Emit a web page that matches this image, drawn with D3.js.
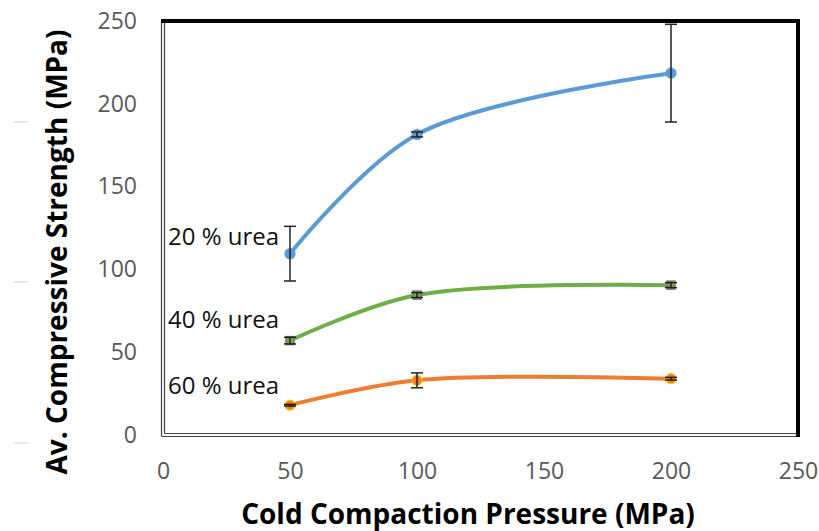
<!DOCTYPE html>
<html><head><meta charset="utf-8">
<script src="https://cdn.jsdelivr.net/npm/d3@7"></script>
<style>body{margin:0;background:#fff;} svg{display:block;}</style>
</head><body>
<svg id="c" width="819" height="531"></svg>
<script>
const pressures = [50, 100, 200];
const seriesNames = ["20 % urea", "40 % urea", "60 % urea"];
const urea20 = [109.5, 181.5, 218.5];
const urea20Err = [16.5, 1.5, 29.5];
const urea40 = [57, 84.5, 90.5];
const urea40Err = [2, 1.5, 1.5];
const urea60 = [18, 33, 34];
const urea60Err = [0.5, 4.5, 0.8];
const xTicks = [0, 50, 100, 150, 200, 250];
const yTicks = [0, 50, 100, 150, 200, 250];

const svg = d3.select("#c");
const x = d3.scaleLinear().domain([0, 250]).range([163, 798]);
const y = d3.scaleLinear().domain([0, 250]).range([435, 21]);
const font = "'Open Sans', 'Liberation Sans', sans-serif";

// stray ticks at far left
[122, 282, 443].forEach(v => svg.append("line").attr("x1", 14).attr("x2", 28).attr("y1", v).attr("y2", v).attr("stroke", "#d0d0d0").attr("stroke-width", 1));

// tick labels
const xAxis = d3.axisBottom(x).tickValues(xTicks).tickSize(0).tickPadding(0);
const gx = svg.append("g").attr("transform", "translate(0,479)").call(xAxis);
gx.select(".domain").remove();
gx.selectAll("text").attr("font-family", font).attr("font-size", 23).attr("fill", "#595959").attr("dy", "0");
const yAxis = d3.axisLeft(y).tickValues(yTicks).tickSize(0).tickPadding(0);
const gy = svg.append("g").attr("transform", "translate(137,0)").call(yAxis);
gy.select(".domain").remove();
gy.selectAll("text").attr("font-family", font).attr("font-size", 23).attr("fill", "#595959");

// frame
const fx0 = x(0), fx1 = x(250), fy0 = y(0), fy1 = y(250);
svg.append("line").attr("x1", fx0 - 1.5).attr("x2", fx0 - 1.5).attr("y1", fy1).attr("y2", fy0 + 1.5).attr("stroke", "#444").attr("stroke-width", 1.2);
svg.append("line").attr("x1", fx0 + 1.5).attr("x2", fx0 + 1.5).attr("y1", fy1).attr("y2", fy0 - 1.5).attr("stroke", "#444").attr("stroke-width", 1.2);
svg.append("line").attr("x1", fx0 - 1.5).attr("x2", fx1).attr("y1", fy0 + 1.5).attr("y2", fy0 + 1.5).attr("stroke", "#444").attr("stroke-width", 1.2);
svg.append("line").attr("x1", fx0 + 1.5).attr("x2", fx1).attr("y1", fy0 - 1.5).attr("y2", fy0 - 1.5).attr("stroke", "#444").attr("stroke-width", 1.2);
svg.append("line").attr("x1", fx0 - 2).attr("x2", fx1 + 2).attr("y1", fy1).attr("y2", fy1).attr("stroke", "#000").attr("stroke-width", 4);
svg.append("line").attr("x1", fx1).attr("x2", fx1).attr("y1", fy1 - 2).attr("y2", fy0 + 2).attr("stroke", "#000").attr("stroke-width", 4);

const series = [
  {vals: urea20, err: urea20Err, color: "#5B9BD5", mfill: "#5B9BD5", mstroke: "#5B9BD5", shape: "circle"},
  {vals: urea40, err: urea40Err, color: "#70AD47", mfill: "#70AD47", mstroke: "#777", shape: "square"},
  {vals: urea60, err: urea60Err, color: "#ED7D31", mfill: "#ED7D31", mstroke: "#FFC000", shape: "circle"}
];
const line = d3.line().x(d => x(d[0])).y(d => y(d[1])).curve(d3.curveCatmullRom.alpha(0.5));

series.forEach(s => {
  const pts = pressures.map((p, i) => [p, s.vals[i]]);
  svg.append("path").attr("d", line(pts)).attr("fill", "none").attr("stroke", s.color).attr("stroke-width", 4).attr("stroke-linecap", "round");
  pts.forEach((d, i) => {
    const cx = x(d[0]), cy = y(d[1]);
    if (s.shape === "circle") {
      svg.append("circle").attr("cx", cx).attr("cy", cy).attr("r", 5).attr("fill", s.mfill).attr("stroke", s.mstroke).attr("stroke-width", 1.2);
    } else {
      svg.append("rect").attr("x", cx - 4).attr("y", cy - 4).attr("width", 8).attr("height", 8).attr("fill", s.mfill).attr("stroke", s.mstroke).attr("stroke-width", 1.5);
    }
    const e = s.err[i];
    const yt = y(d[1] + e), yb = y(d[1] - e);
    const g = svg.append("g").attr("stroke", "#222").attr("stroke-width", 1.5);
    g.append("line").attr("x1", cx).attr("x2", cx).attr("y1", yt).attr("y2", yb);
    g.append("line").attr("x1", cx - 6).attr("x2", cx + 6).attr("y1", yt).attr("y2", yt);
    g.append("line").attr("x1", cx - 6).attr("x2", cx + 6).attr("y1", yb).attr("y2", yb);
  });
});

// series labels
const labelY = [245, 328, 394];
seriesNames.forEach((n, i) => {
  svg.append("text").attr("x", 168).attr("y", labelY[i]).attr("font-family", font).attr("font-size", 24).attr("fill", "#111").text(n);
});

// axis titles
svg.append("text").attr("x", 468).attr("y", 524).attr("text-anchor", "middle").attr("font-family", font).attr("font-weight", "bold").attr("font-size", 28).attr("fill", "#000").text("Cold Compaction Pressure (MPa)");
svg.append("text").attr("transform", "translate(67,252) rotate(-90)").attr("text-anchor", "middle").attr("font-family", font).attr("font-weight", "bold").attr("font-size", 28).attr("fill", "#000").text("Av. Compressive Strength (MPa)");
</script>
</body></html>
